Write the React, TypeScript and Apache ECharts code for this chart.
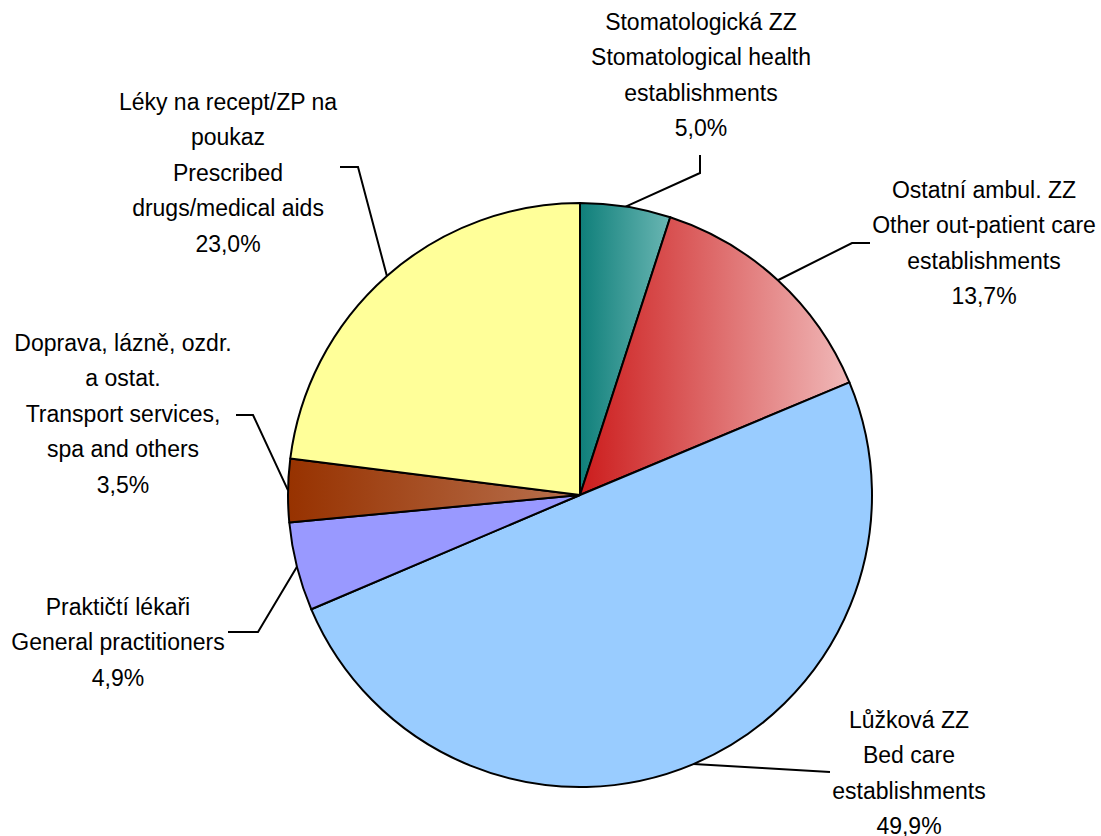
import React, { useEffect, useRef } from "react";
import * as echarts from "echarts";

const czNames = [
  "Stomatologická ZZ",
  "Ostatní ambul. ZZ",
  "Lůžková ZZ",
  "Praktičtí lékaři",
  "Doprava, lázně, ozdr.\na ostat.",
  "Léky na recept/ZP na\npoukaz",
];
const enNames = [
  "Stomatological health\nestablishments",
  "Other out-patient care\nestablishments",
  "Bed care\nestablishments",
  "General practitioners",
  "Transport services,\nspa and others",
  "Prescribed\ndrugs/medical aids",
];
const shares = [5.0, 13.7, 49.9, 4.9, 3.5, 23.0];

const grad = (a: string, b: string) => ({
  type: "linear",
  x: 0,
  y: 0,
  x2: 1,
  y2: 0,
  colorStops: [
    { offset: 0, color: a },
    { offset: 1, color: b },
  ],
});

const fills: any[] = [
  grad("#0f7f7a", "#6ab6b3"),
  grad("#cc1c1c", "#f0b9b9"),
  "#99ccff",
  "#9999ff",
  grad("#973200", "#b8714f"),
  "#ffff99",
];

// label placement (layout only)
const labelPos = [
  { x: 701, y: 4 },
  { x: 984, y: 172 },
  { x: 909, y: 702 },
  { x: 118, y: 589 },
  { x: 123, y: 325 },
  { x: 228, y: 84 },
];
const lineTail = [
  [[700, 173], [700, 155]],
  [[852, 243], [870, 243]],
  [[762, 768], [830, 772]],
  [[258, 632], [228, 632]],
  [[253, 415], [236, 415]],
  [[358, 167], [340, 167]],
];

export default function App() {
  const ref = useRef<HTMLDivElement>(null);
  useEffect(() => {
    if (!ref.current) return;
    const chart = echarts.init(ref.current, null, { renderer: "svg" });
    chart.setOption({
      animation: false,
      backgroundColor: "#ffffff",
      series: [
        {
          type: "pie",
          center: [580, 495],
          radius: 292,
          startAngle: 90,
          clockwise: true,
          avoidLabelOverlap: false,
          emphasis: { disabled: true },
          itemStyle: { borderColor: "#000000", borderWidth: 2 },
          label: {
            show: true,
            position: "outside",
            color: "#000000",
            fontFamily: "Liberation Sans, Arial, sans-serif",
            fontSize: 23,
            lineHeight: 35.5,
            align: "center",
            formatter: (p: any) =>
              `${czNames[p.dataIndex]}\n${enNames[p.dataIndex]}\n${shares[p.dataIndex]
                .toFixed(1)
                .replace(".", ",")}%`,
          },
          labelLine: {
            show: true,
            lineStyle: { color: "#000000", width: 2 },
          },
          labelLayout: (p: any) => {
            const i = p.dataIndex;
            const pts = p.labelLinePoints || [[0, 0]];
            return {
              x: labelPos[i].x,
              y: labelPos[i].y,
              align: "center",
              verticalAlign: "top",
              labelLinePoints: [pts[0], ...lineTail[i]],
            };
          },
          data: shares.map((v, i) => ({
            value: v,
            name: czNames[i],
            itemStyle: { color: fills[i] },
          })),
        },
      ],
    });
    return () => chart.dispose();
  }, []);
  return (
    <div
      ref={ref}
      style={{ position: "absolute", left: 0, top: 0, width: 1101, height: 836, background: "#fff" }}
    />
  );
}
